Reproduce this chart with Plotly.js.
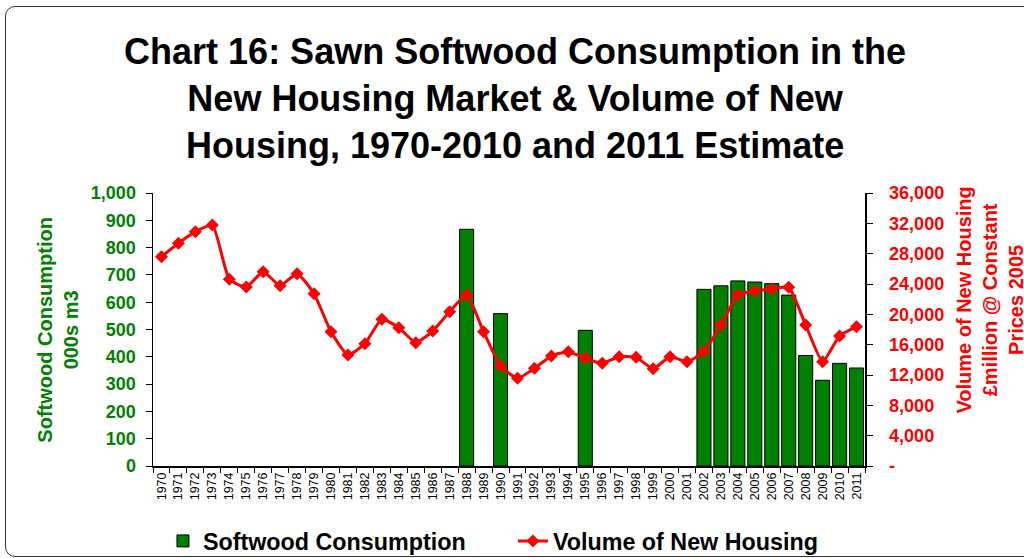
<!DOCTYPE html>
<html>
<head>
<meta charset="utf-8">
<script src="https://cdn.plot.ly/plotly-3.0.1.min.js"></script>
<style>
html,body{margin:0;padding:0;width:1024px;height:558px;overflow:hidden;background:#fff;}
#frame{position:absolute;left:5px;top:6px;width:1100px;height:551px;border:1.5px solid #333;border-radius:10px;box-sizing:border-box;}
#chart{position:absolute;left:0;top:0;width:1024px;height:558px;}
</style>
</head>
<body>
<div id="frame"></div>
<div id="chart"></div>
<script>
const years = ["1970","1971","1972","1973","1974","1975","1976","1977","1978","1979",
"1980","1981","1982","1983","1984","1985","1986","1987","1988","1989",
"1990","1991","1992","1993","1994","1995","1996","1997","1998","1999",
"2000","2001","2002","2003","2004","2005","2006","2007","2008","2009","2010","2011"];

const softwood = [null,null,null,null,null,null,null,null,null,null,
null,null,null,null,null,null,null,null,867,null,
558,null,null,null,null,497,null,null,null,null,
null,null,647,660,678,674,668,626,405,314,376,359];

const housing = [27600,29370,30900,31780,24620,23600,25620,23780,25360,22720,
17690,14640,16130,19340,18240,16260,17800,20350,22550,17710,
13190,11560,12880,14500,15080,14200,13540,14420,14330,12830,
14420,13760,15080,18590,22550,23080,23340,23560,18590,13760,17140,18370];

const leftTicks = [0,100,200,300,400,500,600,700,800,900,1000];
const rightTicks = [0,4000,8000,12000,16000,20000,24000,28000,32000,36000];
const rightTickText = ["-","4,000","8,000","12,000","16,000","20,000","24,000","28,000","32,000","36,000"];

const green = "#008000", red = "#FF0000";
const FONT = "Arial, 'Liberation Sans', sans-serif";

const traces = [
  {type:"bar", name:"Softwood Consumption", x:years, y:softwood, xaxis:"x", yaxis:"y",
   marker:{color:green, line:{color:"#000", width:1}}},
  {type:"scatter", mode:"lines+markers", name:"Volume of New Housing", x:years, y:housing,
   xaxis:"x", yaxis:"y2",
   line:{color:red, width:3, shape:"spline", smoothing:0.5},
   marker:{symbol:"diamond", size:10, color:red}}
];

const layout = {
  width:1024, height:558,
  margin:{l:153, r:159, t:193, b:92},
  paper_bgcolor:"rgba(0,0,0,0)", plot_bgcolor:"rgba(0,0,0,0)",
  font:{family:FONT, color:"#000"},
  bargap:0.17,
  showlegend:true,
  title:{text:"<b>Chart 16: Sawn Softwood Consumption in the<br>New Housing Market &amp; Volume of New<br>Housing, 1970-2010 and 2011 Estimate</b>",
    font:{family:FONT, size:36, color:"#000"}, x:0.503, xanchor:"center", y:0.885, yanchor:"top", xref:"container", yref:"container"},
  xaxis:{type:"category", categoryarray:years, range:[-0.5, years.length-0.5],
    showline:true, linecolor:"#000", linewidth:1.5, showgrid:false, zeroline:false,
    ticks:"outside", ticklen:5, tickwidth:1, tickcolor:"#000", tickson:"boundaries",
    tickangle:-90, tickfont:{family:FONT, size:12.5, color:"#000"}},
  xaxis2:{overlaying:"x", anchor:"y", range:[-0.5, years.length-0.5], tick0:-0.5, dtick:1,
    showline:false, showgrid:false, zeroline:false, ticks:"inside", ticklen:5, tickcolor:"#000",
    showticklabels:false},
  yaxis:{range:[0,1000], tickvals:leftTicks, tickformat:",d", showline:true, linecolor:"#000", linewidth:1.5,
    showgrid:false, zeroline:false, ticks:"outside", ticklen:6, tickcolor:"#000", ticklabelstandoff:6,
    tickfont:{family:FONT, size:18, color:green, weight:"bold"}},
  yaxis2:{overlaying:"y", side:"right", anchor:"x", range:[0,36000], tickvals:rightTicks, ticktext:rightTickText,
    showline:true, linecolor:"#000", linewidth:1.5, showgrid:false, zeroline:false,
    ticks:"outside", ticklen:6, tickcolor:"#000", ticklabelstandoff:13,
    tickfont:{family:FONT, size:18, color:red, weight:"bold"}},
  yaxis3:{overlaying:"y", side:"left", anchor:"x", range:[0,1000], tickvals:leftTicks,
    showline:false, showgrid:false, zeroline:false, ticks:"inside", ticklen:6, tickcolor:"#000", showticklabels:false},
  yaxis4:{overlaying:"y", side:"right", anchor:"x", range:[0,36000], tickvals:rightTicks,
    showline:false, showgrid:false, zeroline:false, ticks:"inside", ticklen:6, tickcolor:"#000", showticklabels:false},
  legend:{orientation:"h", xref:"paper", x:0.014, xanchor:"left", yref:"container", y:0.03, yanchor:"middle",
    font:{family:FONT, size:23.3, color:"#000", weight:"bold"}, bgcolor:"rgba(0,0,0,0)",
    entrywidth:305, entrywidthmode:"pixels", traceorder:"normal"},
  annotations:[
    {text:"<b>Softwood Consumption<br>000s m3</b>", xref:"paper", yref:"paper", x:-0.134, y:0.498,
     xanchor:"center", yanchor:"middle", textangle:-90, showarrow:false,
     font:{family:FONT, size:20, color:green}},
    {text:"<b>Volume of New Housing<br>£million @ Constant<br>Prices 2005</b>", xref:"paper", yref:"paper", x:1.175, y:0.608,
     xanchor:"center", yanchor:"middle", textangle:-90, showarrow:false,
     font:{family:FONT, size:20, color:red}}
  ]
};

Plotly.newPlot("chart", traces, layout, {displayModeBar:false, staticPlot:true});
</script>
</body>
</html>
